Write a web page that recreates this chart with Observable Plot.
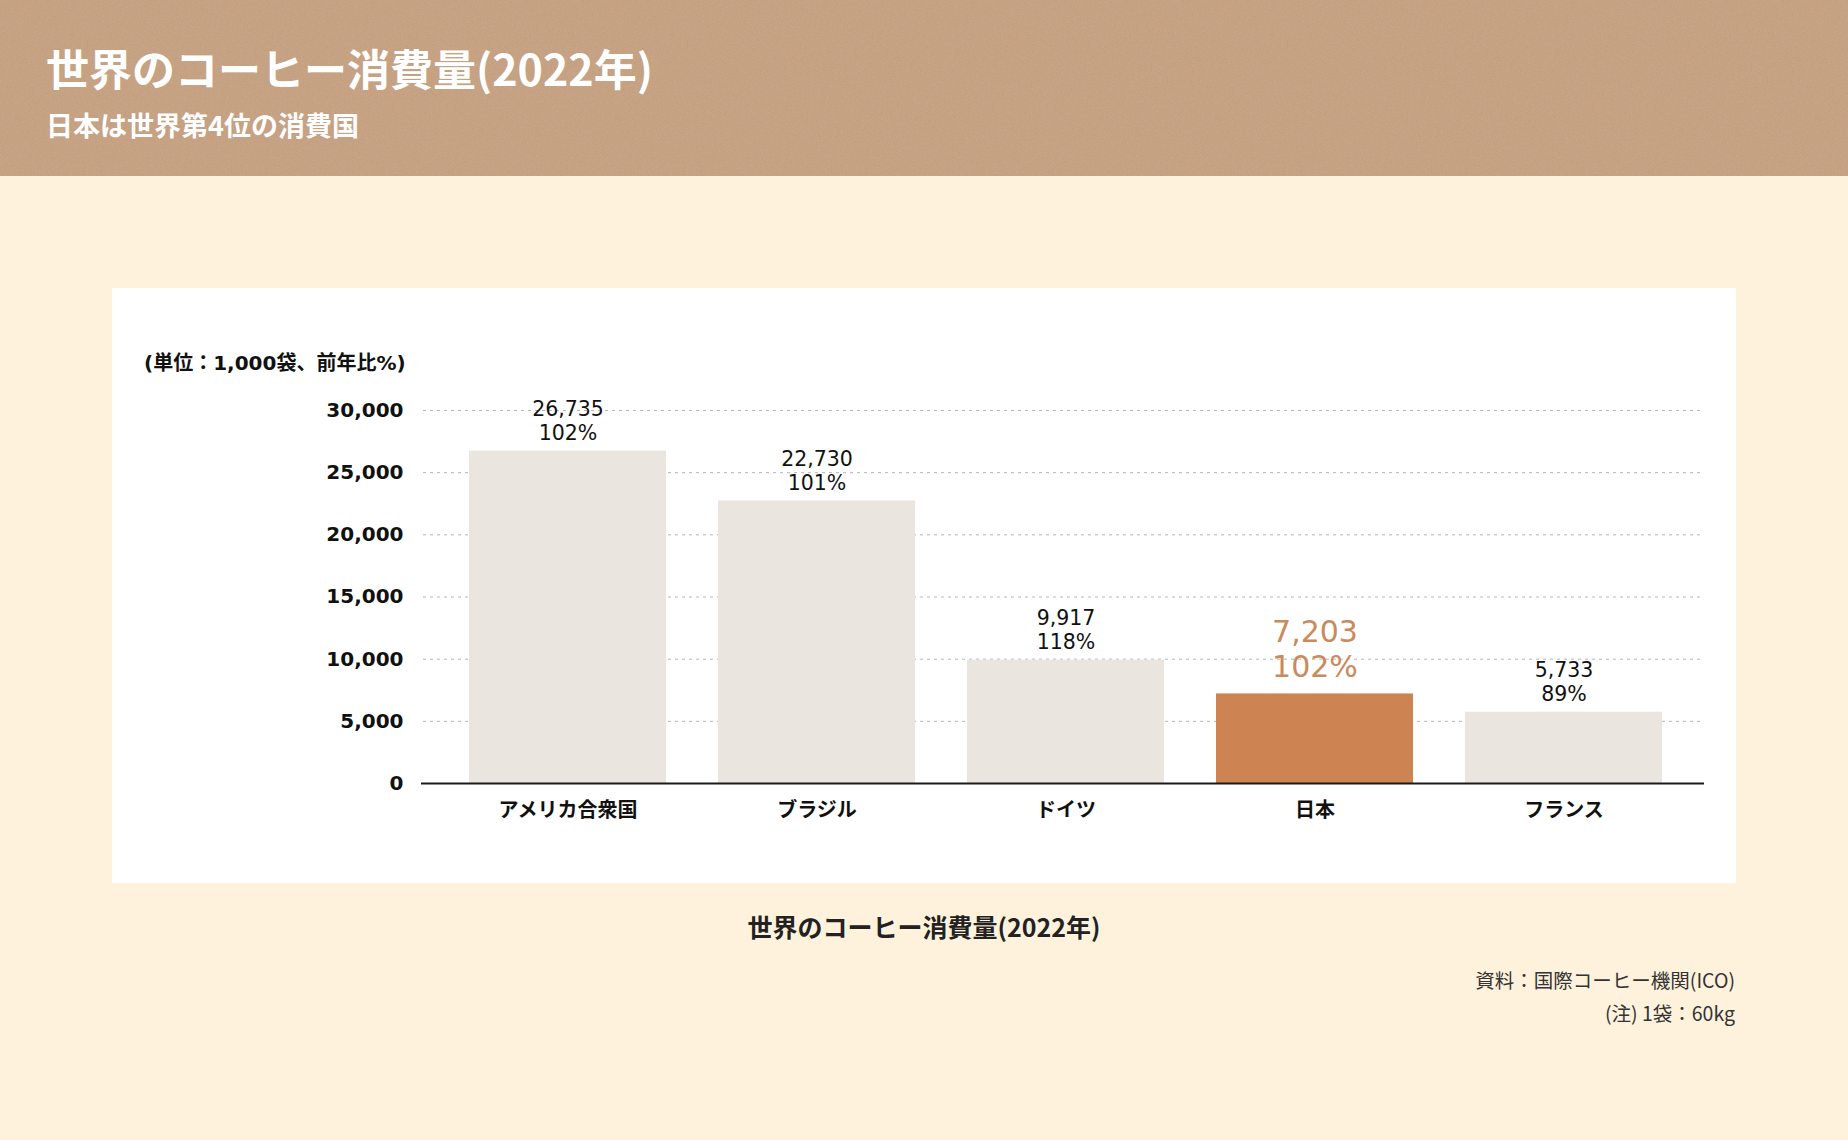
<!DOCTYPE html>
<html><head><meta charset="utf-8">
<script src="https://cdn.jsdelivr.net/npm/d3@7"></script>
<script src="https://cdn.jsdelivr.net/npm/@observablehq/plot@0.6"></script>
<style>
html,body{margin:0;padding:0;}
body{width:1848px;height:1140px;background:#fef2dc;position:relative;overflow:hidden;font-family:"Noto Sans CJK JP","Noto Sans",sans-serif;}
#header{position:absolute;left:0;top:0;width:1848px;height:176px;background-color:#c79f7d;
background-image:url("data:image/svg+xml;utf8,<svg xmlns='http://www.w3.org/2000/svg' width='300' height='300'><filter id='n'><feTurbulence type='fractalNoise' baseFrequency='1.2' numOctaves='2' stitchTiles='stitch'/><feColorMatrix type='saturate' values='0'/></filter><rect width='100%' height='100%' filter='url(%23n)' opacity='0.2'/></svg>");}
.abs{position:absolute;white-space:nowrap;}
#title{left:46px;top:46px;font-size:43px;line-height:43px;font-weight:700;color:#fff;}
#subtitle{left:46px;top:111px;font-size:27px;line-height:27px;font-weight:700;color:#fff;}
#panel{left:112px;top:288px;width:1624px;height:595px;background:#fff;}
#unit{left:32px;top:65px;font-size:20px;line-height:20px;font-weight:700;color:#111;font-family:"DejaVu Sans","Noto Sans CJK JP",sans-serif;}
#chart{position:absolute;left:0;top:0;}
#caption{left:0;width:1848px;text-align:center;top:914px;font-size:25px;line-height:25px;font-weight:700;color:#222;}
.src{right:113px;font-size:19.5px;line-height:20px;color:#333;text-align:right;}
#src1{top:970px;}
#src2{top:1003px;}
</style></head>
<body>
<div id="header">
  <div id="title" class="abs">世界のコーヒー消費量(2022年)</div>
  <div id="subtitle" class="abs">日本は世界第4位の消費国</div>
</div>
<div id="panel" class="abs">
  <div id="chart"></div>
  <div id="unit" class="abs">(単位：1,000袋、前年比%)</div>
</div>
<div id="caption" class="abs">世界のコーヒー消費量(2022年)</div>
<div id="src1" class="abs src">資料：国際コーヒー機関(ICO)</div>
<div id="src2" class="abs src">(注) 1袋：60kg</div>
<script>
const countries = ["アメリカ合衆国", "ブラジル", "ドイツ", "日本", "フランス"];
const volumes = [26735, 22730, 9917, 7203, 5733];
const yoy = [102, 101, 118, 102, 89];
const highlight = "日本";
const yTicks = [0, 5000, 10000, 15000, 20000, 25000, 30000];

const data = countries.map((c, i) => ({country: c, volume: volumes[i], yoy: yoy[i]}));
const others = data.filter(d => d.country !== highlight);
const hi = data.filter(d => d.country === highlight);
const fmt = d3.format(",");
const label = d => fmt(d.volume) + "\n" + d.yoy + "%";
const numFont = '"DejaVu Sans","Noto Sans CJK JP",sans-serif';

const chart = Plot.plot({
  width: 1624,
  height: 595,
  marginTop: 122,
  marginBottom: 100,
  marginLeft: 311,
  marginRight: 36,
  style: {fontFamily: numFont, background: "transparent", overflow: "visible", color: "#111"},
  x: {domain: countries, paddingInner: 0.21, paddingOuter: 0, insetLeft: 44, insetRight: 36, label: null},
  y: {domain: [0, 30000], label: null},
  marks: [
    Plot.ruleY(yTicks.slice(1), {stroke: "#b5b5b5", strokeDasharray: "3,4", strokeWidth: 1}),
    Plot.barY(others, {x: "country", y: "volume", fill: "#ebe5e0"}),
    Plot.barY(hi, {x: "country", y: "volume", fill: "#cd8452"}),
    Plot.ruleY([0], {stroke: "#1a1a1a", strokeWidth: 2, insetLeft: -2, insetRight: -4}),
    Plot.axisY({ticks: yTicks, tickSize: 0, tickPadding: 20, tickFormat: fmt, fontSize: 20, fontWeight: "bold", color: "#111", label: null}),
    Plot.axisX({tickSize: 0, tickPadding: 19, fontSize: 20, fontWeight: "bold", fontFamily: '"Noto Sans CJK JP",sans-serif', color: "#111", label: null}),
    Plot.text(others, {x: "country", y: "volume", text: label, dy: -31, lineHeight: 1.17, fontSize: 20.5, fill: "#111"}),
    Plot.text(hi, {x: "country", y: "volume", text: label, dy: -46, lineHeight: 1.17, fontSize: 30, fill: "#c98a5c"})
  ]
});
document.getElementById("chart").appendChild(chart);
</script>
</body></html>
